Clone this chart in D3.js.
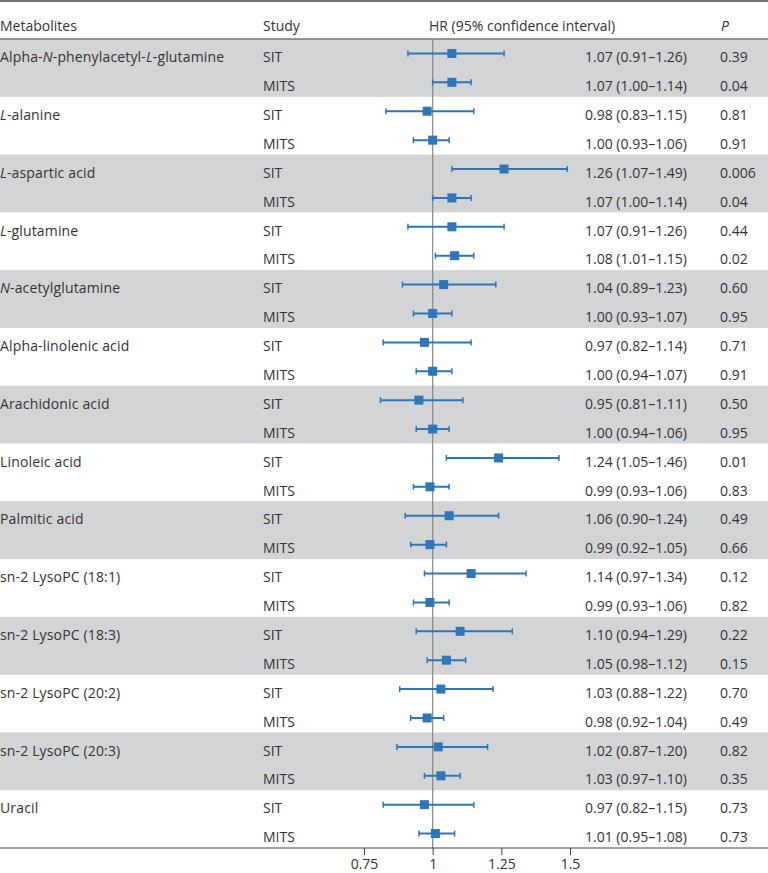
<!DOCTYPE html>
<html>
<head>
<meta charset="utf-8">
<script src="https://cdn.jsdelivr.net/npm/d3@7"></script>
<style>
  body { margin: 0; background: #fff; }
  svg text { font-family: "Open Sans", sans-serif; font-size: 14px; fill: #333; }
</style>
</head>
<body>
<script>
// names use *...* for the italic parts
const metabolites = [
  "Alpha-*N*-phenylacetyl-*L*-glutamine", "*L*-alanine", "*L*-aspartic acid", "*L*-glutamine",
  "*N*-acetylglutamine", "Alpha-linolenic acid", "Arachidonic acid", "Linoleic acid",
  "Palmitic acid", "sn-2 LysoPC (18:1)", "sn-2 LysoPC (18:3)", "sn-2 LysoPC (20:2)",
  "sn-2 LysoPC (20:3)", "Uracil"
];
const studies = ["SIT", "MITS"];

const sitHR = [1.07, 0.98, 1.26, 1.07, 1.04, 0.97, 0.95, 1.24, 1.06, 1.14, 1.10, 1.03, 1.02, 0.97];
const sitLo = [0.91, 0.83, 1.07, 0.91, 0.89, 0.82, 0.81, 1.05, 0.90, 0.97, 0.94, 0.88, 0.87, 0.82];
const sitHi = [1.26, 1.15, 1.49, 1.26, 1.23, 1.14, 1.11, 1.46, 1.24, 1.34, 1.29, 1.22, 1.20, 1.15];
const sitP = ["0.39", "0.81", "0.006", "0.44", "0.60", "0.71", "0.50", "0.01", "0.49", "0.12", "0.22", "0.70", "0.82", "0.73"];

const mitsHR = [1.07, 1.00, 1.07, 1.08, 1.00, 1.00, 1.00, 0.99, 0.99, 0.99, 1.05, 0.98, 1.03, 1.01];
const mitsLo = [1.00, 0.93, 1.00, 1.01, 0.93, 0.94, 0.94, 0.93, 0.92, 0.93, 0.98, 0.92, 0.97, 0.95];
const mitsHi = [1.14, 1.06, 1.14, 1.15, 1.07, 1.07, 1.06, 1.06, 1.05, 1.06, 1.12, 1.04, 1.10, 1.08];
const mitsP = ["0.04", "0.91", "0.04", "0.02", "0.95", "0.91", "0.95", "0.83", "0.66", "0.82", "0.15", "0.49", "0.35", "0.73"];

const ticks = [0.75, 1, 1.25, 1.5];

const w = 768;
const h = 873;
const yTop = 39;
const yBottom = 848;
const blue = "#2e75b9";

const rows = [];
metabolites.forEach((m, i) => {
  rows.push({ g: i, name: m, study: studies[0], hr: sitHR[i], lo: sitLo[i], hi: sitHi[i], p: sitP[i] });
  rows.push({ g: i, name: null, study: studies[1], hr: mitsHR[i], lo: mitsLo[i], hi: mitsHi[i], p: mitsP[i] });
});

const x = d3.scaleLinear().domain([0.75, 1.5]).range([364, 570]);
const y = d3.scaleBand().domain(d3.range(rows.length)).range([yTop, yBottom]);

const svg = d3.select("body").append("svg").attr("width", w).attr("height", h);

// shaded bands for every other metabolite
svg.selectAll("rect.band")
  .data(d3.range(0, metabolites.length, 2))
  .enter()
  .append("rect")
  .attr("class", "band")
  .attr("x", 0)
  .attr("y", (g) => y(g * 2))
  .attr("width", w)
  .attr("height", y.bandwidth() * 2)
  .attr("fill", "#d3d4d6");

// header
svg.append("line").attr("x1", 0).attr("x2", w).attr("y1", 1).attr("y2", 1)
  .attr("stroke", "#444").attr("stroke-width", 1.5);
svg.append("line").attr("x1", 0).attr("x2", w).attr("y1", yTop).attr("y2", yTop)
  .attr("stroke", "#777").attr("stroke-width", 1.5);
svg.append("text").attr("x", 0).attr("y", 30.5).text("Metabolites");
svg.append("text").attr("x", 263).attr("y", 30.5).text("Study");
svg.append("text").attr("x", 429).attr("y", 30.5).text("HR (95% confidence interval)");
svg.append("text").attr("x", 721).attr("y", 30.5).attr("font-style", "italic").text("P");

// reference line at HR = 1
svg.append("line").attr("x1", x(1)).attr("x2", x(1)).attr("y1", yTop).attr("y2", yBottom)
  .attr("stroke", "#888").attr("stroke-width", 1.2);

const row = svg.selectAll("g.row")
  .data(rows)
  .enter()
  .append("g")
  .attr("class", "row")
  .attr("transform", (d, i) => `translate(0, ${y(i) + y.bandwidth() / 2})`);

row.filter((d) => d.name)
  .append("text")
  .attr("x", 0)
  .attr("y", 8.7)
  .attr("letter-spacing", 0.15)
  .each(function (d) {
    const t = d3.select(this);
    d.name.split("*").forEach((part, k) => {
      if (part) t.append("tspan").attr("font-style", k % 2 ? "italic" : null).text(part);
    });
  });

row.append("text").attr("x", 263).attr("y", 8.7).text((d) => d.study);
row.append("text").attr("x", 687).attr("y", 8.7).attr("text-anchor", "end")
  .text((d) => `${d.hr.toFixed(2)} (${d.lo.toFixed(2)}–${d.hi.toFixed(2)})`);
row.append("text").attr("x", 720).attr("y", 8.7).text((d) => d.p);

// whiskers, caps and markers
row.append("line")
  .attr("x1", (d) => x(d.lo)).attr("x2", (d) => x(d.hi))
  .attr("stroke", blue).attr("stroke-width", 2);
row.append("line")
  .attr("x1", (d) => x(d.lo)).attr("x2", (d) => x(d.lo)).attr("y1", -3).attr("y2", 3)
  .attr("stroke", blue).attr("stroke-width", 1.5);
row.append("line")
  .attr("x1", (d) => x(d.hi)).attr("x2", (d) => x(d.hi)).attr("y1", -3).attr("y2", 3)
  .attr("stroke", blue).attr("stroke-width", 1.5);
row.append("rect")
  .attr("x", (d) => x(d.hr) - 4.5).attr("y", -4.5)
  .attr("width", 9).attr("height", 9)
  .attr("fill", blue);

// bottom axis
svg.append("line").attr("x1", 0).attr("x2", w).attr("y1", yBottom).attr("y2", yBottom)
  .attr("stroke", "#444").attr("stroke-width", 1.2);
const xAxis = d3.axisBottom(x).tickValues(ticks).tickFormat((d) => String(d)).tickSizeOuter(0).tickSize(7);
const ax = svg.append("g").attr("transform", `translate(0, ${yBottom})`).call(xAxis);
ax.select(".domain").remove();
ax.selectAll(".tick line").attr("stroke", "#444");
ax.selectAll(".tick text").attr("dy", null).attr("y", 21).style("font-size", "14px").style("font-family", "Open Sans, sans-serif").attr("fill", "#333");
</script>
</body>
</html>
